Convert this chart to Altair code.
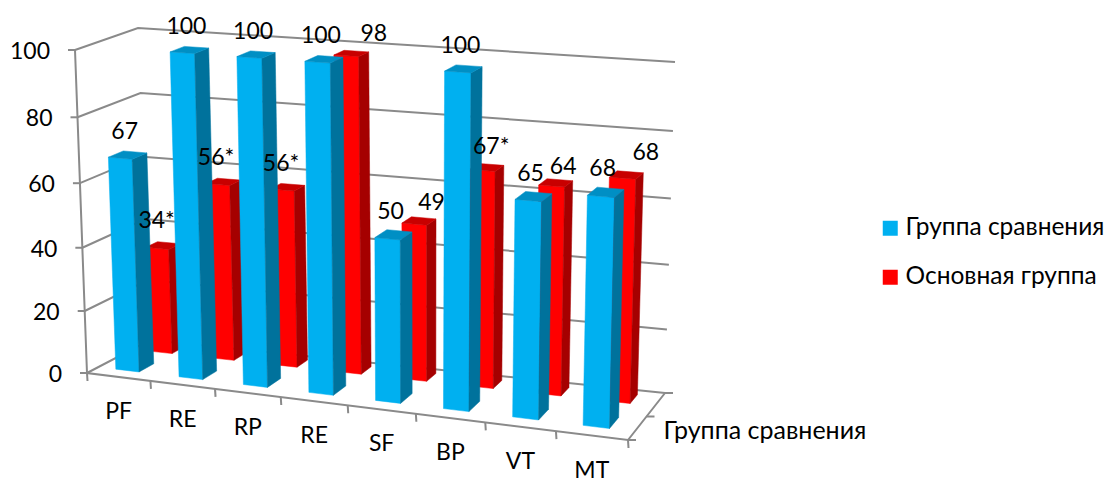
import altair as alt
import pandas as pd

W, H = 1109, 479
FONT = "Lato"

categories = ["PF", "RE", "RP", "RE", "SF", "BP", "VT", "MT"]
comparison_values = [67, 100, 100, 100, 50, 100, 65, 68]
main_values = [34, 56, 56, 98, 49, 67, 64, 68]
main_suffix = ["*", "*", "*", "", "", "*", "", ""]
series_names = ["Группа сравнения", "Основная группа"]
y_ticks = [0, 20, 40, 60, 80, 100]
depth_title = "Группа сравнения"

# Eight corners of the 3D plot box on the canvas: (side, depth, level)
BOX = {
    (0, 0, 0): (87, 373), (1, 0, 0): (628, 440),
    (0, 1, 0): (150, 340), (1, 1, 0): (665, 393),
    (0, 0, 1): (75, 50), (1, 0, 1): (636, 90),
    (0, 1, 1): (138, 28), (1, 1, 1): (675, 62),
}
FORESHORTEN_U = 0.93
FORESHORTEN_V = 0.95
N = len(categories)


def project(u, d, v):
    """Map category position u, depth d (0-1) and value v (0-100) to the canvas."""
    s = u * FORESHORTEN_U / (N + (FORESHORTEN_U - 1) * u)
    t = (v / 100) * FORESHORTEN_V / (1 + (FORESHORTEN_V - 1) * v / 100)
    x = y = 0.0
    for (a, b, c), (px, py) in BOX.items():
        w = (s if a else 1 - s) * (d if b else 1 - d) * (t if c else 1 - t)
        x += w * px
        y += w * py
    return x, y


faces, lines, texts = [], [], []
face_count = 0


def add_bar(i, value, d0, d1, front, side, top):
    global face_count
    u0, u1 = i + 0.28, i + 0.65
    for fill, quad in (
        (front, [(u0, d0, 0), (u1, d0, 0), (u1, d0, value), (u0, d0, value)]),
        (side, [(u1, d0, 0), (u1, d1, 0), (u1, d1, value), (u1, d0, value)]),
        (top, [(u0, d0, value), (u1, d0, value), (u1, d1, value), (u0, d1, value)]),
    ):
        for k, c in enumerate(quad + quad[:1]):
            x, y = project(*c)
            faces.append({"face": face_count, "pt": k, "x": x, "y": y, "fill": fill})
        face_count += 1


# The rear series goes first so the front series covers it
for i, value in enumerate(main_values):
    add_bar(i, value, 0.72, 0.91, "#FF0000", "#A50000", "#C80000")
for i, value in enumerate(comparison_values):
    add_bar(i, value, 0.18, 0.42, "#00B0F0", "#00729C", "#008FC4")


def add_line(*pts):
    lid = len({row["line"] for row in lines})
    for k, (x, y) in enumerate(pts):
        lines.append({"line": lid, "pt": k, "x": x, "y": y})


for v in y_ticks:
    add_line(project(0, 0, v), project(0, 1, v), project(N, 1, v))
    fx, fy = project(0, 0, v)
    add_line((fx - 7, fy), (fx, fy))
add_line(project(0, 0, 100), project(0, 0, 0), project(N, 0, 0), project(N, 1, 0))
for i in range(N + 1):
    x, y = project(i, 0, 0)
    add_line((x, y), (x + 0.5, y + 8))
for d in (0, 0.5, 1):
    x, y = project(N, d, 0)
    add_line((x, y), (x + 8, y))

# Tick labels
for v in y_ticks:
    x, y = project(0, 0, v)
    texts.append({"x": x - 25, "y": y + 2, "label": str(v), "align": "right", "size": 23})
for i, cat in enumerate(categories):
    x, y = project(i + 0.5, 0, 0)
    texts.append({"x": x, "y": y + 35, "label": cat, "align": "center", "size": 23})
x, y = project(N, 0.5, 0)
texts.append({"x": x + 17, "y": y + 14, "label": depth_title, "align": "left", "size": 25})

# Value labels sit above the bar tops, the rear ones nudged to clear their neighbours
main_label_dx = [-7, -8, -7, 22, 12, 4, 7, 19]
main_label_dy = [-24, -24, -23, -19, -18, -20, -16, -22]
for i, value in enumerate(comparison_values):
    x, y = project(i + 0.465, 0.3, value)
    texts.append({"x": x - 3, "y": y - 23, "label": str(value), "align": "center", "size": 23})
for i, value in enumerate(main_values):
    x, y = project(i + 0.465, 0.825, value)
    texts.append({"x": x + main_label_dx[i], "y": y + main_label_dy[i],
                  "label": f"{value}{main_suffix[i]}", "align": "center", "size": 23})

xs = alt.Scale(domain=[0, W], range=[0, W])
ys = alt.Scale(domain=[0, H], range=[0, H])
X = alt.X("x:Q", scale=xs, axis=None)
Y = alt.Y("y:Q", scale=ys, axis=None)

grid = alt.Chart(pd.DataFrame(lines)).mark_line(
    color="#8A8A8A", strokeWidth=2, clip=False
).encode(x=X, y=Y, detail="line:N", order="pt:Q")

bars = alt.Chart(pd.DataFrame(faces)).mark_line(strokeWidth=0.5, strokeJoin="round").encode(
    x=X, y=Y,
    detail="face:Q",
    order="pt:Q",
    fill=alt.Fill("fill:N", scale=None),
    stroke=alt.Stroke("fill:N", scale=None),
)

text_df = pd.DataFrame(texts)
labels = alt.layer(*[
    alt.Chart(text_df[text_df["align"] == a]).mark_text(
        font=FONT, color="#000000", align=a, baseline="middle"
    ).encode(x=X, y=Y, text="label:N", size=alt.Size("size:Q", scale=None))
    for a in ("left", "center", "right")
])

legend = alt.Chart(pd.DataFrame({"series": series_names})).mark_square(opacity=0, size=1).encode(
    x=alt.value(900), y=alt.value(230),
    color=alt.Color(
        "series:N",
        scale=alt.Scale(domain=series_names, range=["#00B0F0", "#FF0000"]),
        legend=alt.Legend(
            orient="none", legendX=878, legendY=216, title=None,
            symbolType="square", symbolSize=225, symbolOpacity=1, symbolStrokeWidth=0,
            labelFont=FONT, labelFontSize=24.5, labelColor="#000000", labelOffset=3,
            rowPadding=24, labelLimit=240,
        ),
    ),
)

chart = alt.layer(grid, bars, labels, legend).properties(
    width=W, height=H, padding=0, autosize=alt.AutoSizeParams(type="none"),
).configure_view(stroke=None)

chart.save("out.html", embed_options={"renderer": "svg", "actions": False})
